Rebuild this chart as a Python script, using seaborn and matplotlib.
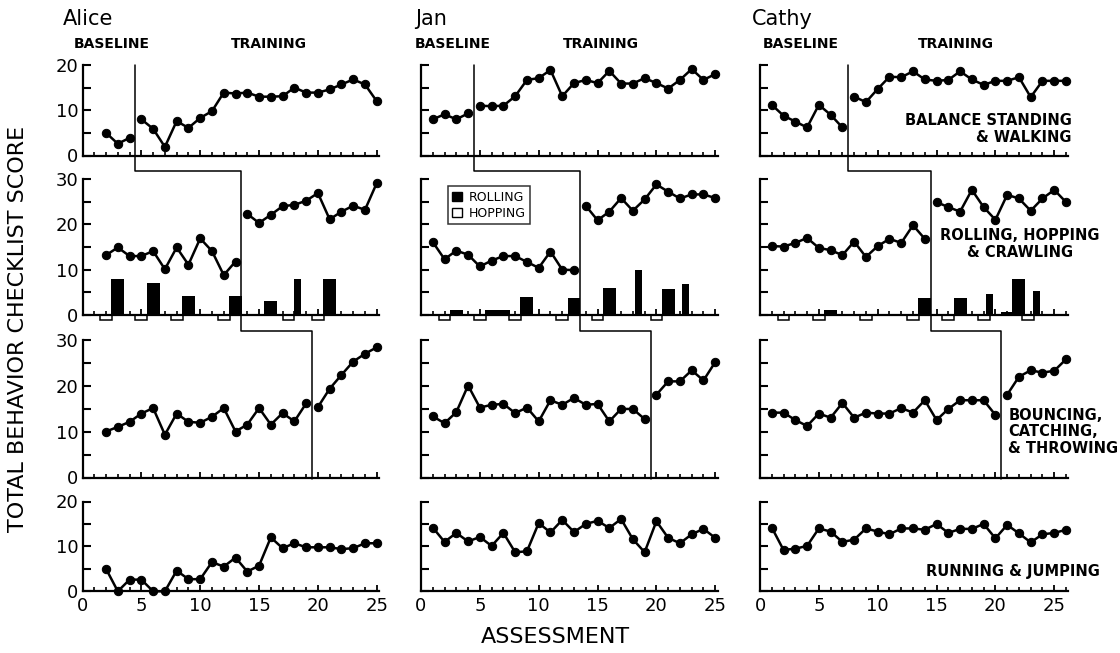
import matplotlib
matplotlib.use('Agg')
import matplotlib.pyplot as plt
import matplotlib.patches as mpatches
import matplotlib.transforms as mtransforms
from matplotlib.lines import Line2D
from matplotlib.ticker import MultipleLocator, FuncFormatter
import numpy as np
import pandas as pd
import seaborn as sns

sns.set_style('ticks')
plt.rcParams['font.family'] = ['DejaVu Sans']
plt.rcParams['text.color'] = 'black'
plt.rcParams['xtick.color'] = 'black'
plt.rcParams['ytick.color'] = 'black'
plt.rcParams['axes.labelcolor'] = 'black'

# ---- data ----
# Alice (assessments 2..25)
alice_start = 2
alice_balance = [5.0, 2.6, 3.9, 8.0, 5.9, 1.9, 7.6, 6.1, 8.3, 9.8, 13.9, 13.7,
                 13.9, 13.0, 13.0, 13.1, 15.0, 13.9, 13.9, 14.6, 15.7, 16.8, 15.7, 12.0]
alice_rolling = [13.2, 14.9, 13.0, 13.0, 14.1, 10.1, 14.9, 11.1, 16.9, 14.1, 8.8, 11.8,
                 22.3, 20.3, 22.1, 24.0, 24.3, 25.2, 26.9, 21.1, 22.8, 24.1, 23.2, 29.1]
alice_bouncing = [10.0, 11.0, 12.1, 13.9, 15.1, 9.3, 13.9, 12.1, 11.9, 13.2, 15.1, 10.0,
                  11.5, 15.1, 11.5, 14.0, 12.2, 16.1, 15.3, 19.3, 22.3, 25.2, 26.9, 28.3]
alice_running = [5.0, 0.0, 2.6, 2.6, 0.0, 0.0, 4.6, 2.7, 2.7, 6.5, 5.5, 7.5,
                 4.4, 5.7, 12.0, 9.6, 10.7, 9.8, 9.8, 9.8, 9.4, 9.6, 10.7, 10.7]
alice_phase = [4.5, 13.5, 19.5]
alice_roll_x = [3, 6, 9, 13, 16, 18.25, 21]
alice_roll_y = [8.0, 7.0, 4.2, 4.2, 3.1, 7.9, 7.9]
alice_hop_x = [2, 5, 8, 12, 17.5, 20]
alice_hop_y = [0, 0, 0, 0, 0, 0]

# Jan (assessments 1..25)
jan_start = 1
jan_balance = [8.0, 9.1, 8.0, 9.3, 11.0, 10.9, 11.0, 13.1, 16.7, 17.1, 18.9, 13.1, 16.0,
               16.7, 16.0, 18.7, 15.9, 15.9, 17.1, 16.0, 14.8, 16.7, 19.1, 16.7, 18.0]
jan_rolling = [16.1, 12.3, 14.2, 13.3, 10.7, 12.0, 13.0, 13.0, 11.7, 10.4, 14.0, 10.0, 9.9,
               24.1, 20.9, 22.8, 25.8, 23.0, 25.5, 28.8, 27.2, 25.7, 26.6, 26.6, 25.8]
jan_bouncing = [13.3, 11.8, 14.2, 20.0, 15.2, 15.8, 16.0, 14.0, 15.2, 12.2, 16.8, 15.8, 17.3,
                15.8, 16.0, 12.2, 14.9, 14.9, 12.7, 18.0, 20.9, 20.9, 23.3, 21.1, 25.1]
jan_running = [14.2, 11.0, 13.0, 11.1, 12.1, 10.1, 13.0, 8.7, 8.9, 15.2, 13.1, 15.9, 13.2,
               15.0, 15.7, 14.1, 16.1, 11.6, 8.7, 15.6, 11.9, 10.7, 12.7, 13.9, 11.9]
jan_phase = [4.5, 13.5, 19.5]
jan_roll_x = [3, 6, 7, 9, 13, 16, 18.5, 21, 22.5]
jan_roll_y = [1.0, 1.0, 1.0, 3.9, 3.8, 6.0, 9.9, 5.7, 6.8]
jan_hop_x = [2, 5, 8, 12, 15, 20]
jan_hop_y = [0, 0, 0, 0, 0, 0]

# Cathy (assessments 1..26)
cathy_start = 1
cathy_balance = [11.2, 8.8, 7.5, 6.2, 11.2, 9.0, 6.2, 13.0, 11.8, 14.7, 17.4, 17.3, 18.6,
                 16.8, 16.5, 16.7, 18.6, 16.8, 15.6, 16.5, 16.5, 17.3, 12.9, 16.5, 16.5, 16.5]
cathy_rolling = [15.2, 15.1, 15.9, 17.0, 14.8, 14.3, 13.2, 16.2, 12.8, 15.2, 16.8, 15.9, 19.8,
                 16.8, 24.9, 23.8, 22.8, 27.6, 23.8, 21.0, 26.5, 25.7, 23.0, 25.7, 27.6, 24.9]
cathy_bouncing = [14.1, 14.1, 12.5, 11.2, 13.9, 13.0, 16.2, 13.0, 14.1, 13.9, 13.9, 15.1, 14.1,
                  16.8, 12.5, 14.9, 16.8, 16.8, 16.8, 13.6, 18.0, 21.9, 23.3, 22.8, 23.2, 25.7]
cathy_running = [14.2, 9.2, 9.5, 10.1, 14.0, 13.3, 11.0, 11.5, 14.0, 13.3, 12.7, 14.0, 14.0,
                 13.7, 15.0, 13.0, 13.9, 13.9, 15.0, 11.8, 14.8, 12.9, 10.9, 12.7, 13.0, 13.7]
cathy_phase = [7.5, 14.5, 20.5]
cathy_roll_x = [6, 14, 17, 19.5, 21, 22, 23.5]
cathy_roll_y = [1.1, 3.8, 3.8, 4.6, 0.6, 8.0, 5.3]
cathy_hop_x = [2, 5, 9, 13, 16, 19, 22.75]
cathy_hop_y = [0, 0, 0, 0, 0, 0, 0]

names = ['Alice', 'Jan', 'Cathy']
skill_labels = ['BALANCE STANDING\n& WALKING', 'ROLLING, HOPPING\n& CRAWLING',
                'BOUNCING,\nCATCHING,\n& THROWING', 'RUNNING & JUMPING']
x_ticks = [0, 5, 10, 15, 20, 25]

subjects = [
    dict(start=alice_start, series=[alice_balance, alice_rolling, alice_bouncing, alice_running],
         phase=alice_phase, roll=(alice_roll_x, alice_roll_y), hop=(alice_hop_x, alice_hop_y)),
    dict(start=jan_start, series=[jan_balance, jan_rolling, jan_bouncing, jan_running],
         phase=jan_phase, roll=(jan_roll_x, jan_roll_y), hop=(jan_hop_x, jan_hop_y)),
    dict(start=cathy_start, series=[cathy_balance, cathy_rolling, cathy_bouncing, cathy_running],
         phase=cathy_phase, roll=(cathy_roll_x, cathy_roll_y), hop=(cathy_hop_x, cathy_hop_y)),
]

# ---- layout (pixels of a 1120x653 canvas) ----
W, H = 1120, 653
unit = 11.77
col_left = [82.5, 421, 760]
col_xmax = [25.2, 25.2, 26.2]
rows = [(155.5, 65, 20), (315, 179, 30), (477.5, 339.5, 30), (591.3, 501.5, 20)]

fig = plt.figure(figsize=(W / 100, H / 100), dpi=100)


def draw_line(ax, start, values, split):
    df = pd.DataFrame({'x': np.arange(start, start + len(values)), 'y': values})
    parts = [df] if split is None else [df[df.x < split], df[df.x > split]]
    for part in parts:
        sns.lineplot(data=part, x='x', y='y', ax=ax, color='black', linewidth=1.8,
                     marker='o', markersize=6, markeredgecolor='black',
                     clip_on=False, legend=False, zorder=3)


axes = []
for c, subj in enumerate(subjects):
    col_axes = []
    for r, (bot, top, ymax) in enumerate(rows):
        ax = fig.add_axes([col_left[c] / W, 1 - bot / H,
                           col_xmax[c] * unit / W, (bot - top) / H])
        split = subj['phase'][r] if r < 3 else None
        draw_line(ax, subj['start'], subj['series'][r], split)

        if r == 1:
            rx, ry = subj['roll']
            widths = [1.1 if float(v).is_integer() else 0.6 for v in rx]
            ax.bar(rx, ry, width=widths, color='black', linewidth=0, zorder=2)
            hx, hy = subj['hop']
            depth = 1.0
            ax.bar(hx, [v + depth for v in hy], bottom=-depth, width=1.0,
                   facecolor='white', edgecolor='black', linewidth=1.1,
                   clip_on=False, zorder=1)

        ax.set_xlim(0, col_xmax[c])
        ax.set_ylim(0, ymax)
        ax.set_xlabel('')
        ax.set_ylabel('')
        sns.despine(ax=ax)
        for s in ['left', 'bottom']:
            ax.spines[s].set_linewidth(1.6)
            ax.spines[s].set_color('black')

        ax.yaxis.set_major_locator(MultipleLocator(5))
        ax.yaxis.set_major_formatter(FuncFormatter(
            lambda v, p: '%d' % v if v % 10 == 0 else ''))
        ax.xaxis.set_major_locator(MultipleLocator(5))
        ax.xaxis.set_minor_locator(MultipleLocator(1))
        ax.tick_params(axis='y', direction='in', length=5.8, width=1.5,
                       labelsize=13, pad=3, labelleft=(c == 0))
        ax.tick_params(axis='x', which='major', direction='in', length=4.5, width=1.3,
                       labelsize=13, pad=4, labelbottom=(r == 3))
        ax.tick_params(axis='x', which='minor', direction='in', length=2.8, width=1.2)
        if r == 3:
            ax.set_xticks(x_ticks)
        col_axes.append(ax)
    axes.append(col_axes)

# ---- phase-change staircase ----
inv = fig.transFigure.inverted()
for c, subj in enumerate(subjects):
    a0, a1, a2 = axes[c][0], axes[c][1], axes[c][2]
    xs = [inv.transform(a0.transData.transform((p, 0)))[0] for p in subj['phase']]
    b0, t1 = a0.get_position().y0, a1.get_position().y1
    b1, t2 = a1.get_position().y0, a2.get_position().y1
    y_top = a0.get_position().y1
    y1 = t1 + 0.35 * (b0 - t1)
    y2 = t2 + 0.35 * (b1 - t2)
    y_bot = a2.get_position().y0 - 0.003
    px = [xs[0], xs[0], xs[1], xs[1], xs[2], xs[2]]
    py = [y_top, y1, y1, y2, y2, y_bot]
    fig.add_artist(Line2D(px, py, transform=fig.transFigure, color='black', linewidth=1.1))

# ---- headers ----
name_x = [-1.7, -0.5, -0.7]
base_x = [2.5, 2.7, 3.5]
train_x = [15.8, 15.3, 16.6]
for c in range(3):
    ax = axes[c][0]
    tr = mtransforms.blended_transform_factory(ax.transData, ax.transAxes)
    ax.text(name_x[c], 1.51, names[c], transform=tr, fontsize=15, ha='left', va='center')
    ax.text(base_x[c], 1.23, 'BASELINE', transform=tr, fontsize=10, fontweight='bold',
            ha='center', va='center')
    ax.text(train_x[c], 1.23, 'TRAINING', transform=tr, fontsize=10, fontweight='bold',
            ha='center', va='center')

# ---- skill labels in Cathy column ----
cax = axes[2]
lab_pos = [(26.5, 0.29, 'right', 'right'), (22.1, 0.52, 'center', 'center'),
           (21.1, 0.33, 'left', 'left'), (28.9, 0.225, 'right', 'right')]
for r, (lx, ly, ha, ma) in enumerate(lab_pos):
    tr = mtransforms.blended_transform_factory(cax[r].transData, cax[r].transAxes)
    cax[r].text(lx, ly, skill_labels[r], transform=tr, fontsize=10.5, fontweight='bold',
                ha=ha, va='center', multialignment=ma, linespacing=1.15, clip_on=False)

# ---- legend in Jan rolling panel ----
handles = [mpatches.Patch(facecolor='black', edgecolor='black', label='ROLLING'),
           mpatches.Patch(facecolor='white', edgecolor='black', label='HOPPING')]
leg = axes[1][1].legend(handles=handles, loc='upper left', bbox_to_anchor=(0.09, 0.945),
                        fontsize=9, frameon=True, fancybox=False, borderpad=0.35,
                        labelspacing=0.25, handlelength=0.8, handleheight=0.8,
                        handletextpad=0.5, borderaxespad=0)
leg.get_frame().set_edgecolor('black')
leg.get_frame().set_linewidth(1.1)

# ---- axis titles ----
fig.text(0.016, 0.497, 'TOTAL BEHAVIOR CHECKLIST SCORE', rotation=90, fontsize=16,
         ha='center', va='center')
fig.text(0.496, 0.025, 'ASSESSMENT', fontsize=16, ha='center', va='center')

fig.savefig('out.png', dpi=100)
